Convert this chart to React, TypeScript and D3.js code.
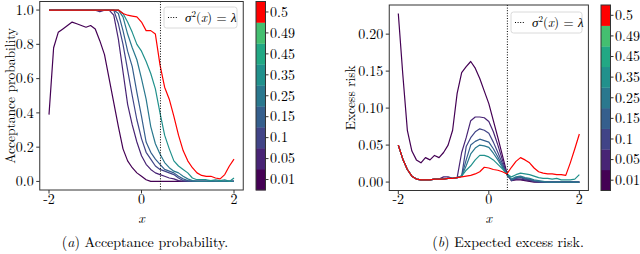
import React from "react";
import * as d3 from "d3";

// x grid shared by every curve
const xs = [
  -2, -1.9, -1.8, -1.7, -1.6, -1.5, -1.4, -1.3, -1.2, -1.1, -1, -0.9, -0.8, -0.7,
  -0.6, -0.5, -0.4, -0.3, -0.2, -0.1, 0, 0.1, 0.2, 0.3, 0.4, 0.5, 0.6, 0.7, 0.8,
  0.9, 1, 1.1, 1.2, 1.3, 1.4, 1.5, 1.6, 1.7, 1.8, 1.9, 2,
];

const lambdaLabels = ["0.01", "0.05", "0.1", "0.15", "0.25", "0.35", "0.45", "0.49", "0.5"];
// index into lambdaLabels of every drawn curve
const curveLevels = [0, 1, 2, 3, 4, 5, 8];
const lambdaLine = 0.41;

// (a) acceptance probability
const acc01 = [0.39, 0.78, 0.87, 0.89, 0.91, 0.93, 0.92, 0.91, 0.9, 0.91, 0.89, 0.82, 0.74, 0.6, 0.46, 0.32, 0.19, 0.12, 0.08, 0.05, 0.03, 0.01, 0, 0, 0, 0, 0, 0, 0, 0, 0, 0, 0, 0, 0, 0, 0, 0, 0, 0, 0];
const acc05 = [1, 1, 1, 1, 1, 1, 1, 1, 1, 1, 1, 0.99, 1, 1, 0.97, 0.83, 0.64, 0.45, 0.33, 0.23, 0.15, 0.1, 0.07, 0.05, 0.04, 0.03, 0.02, 0.015, 0.005, 0, 0, 0, 0, 0, 0, 0, 0, 0, 0, 0, 0];
const acc10 = [1, 1, 1, 1, 1, 1, 1, 1, 1, 1, 1, 1, 1, 1, 1, 0.92, 0.8, 0.65, 0.5, 0.36, 0.25, 0.17, 0.13, 0.09, 0.07, 0.06, 0.05, 0.04, 0.02, 0.005, 0, 0, 0, 0, 0, 0, 0, 0, 0, 0, 0];
const acc15 = [1, 1, 1, 1, 1, 1, 1, 1, 1, 1, 1, 1, 1, 1, 1, 0.98, 0.88, 0.76, 0.67, 0.52, 0.38, 0.23, 0.17, 0.13, 0.1, 0.07, 0.06, 0.05, 0.03, 0.015, 0.005, 0, 0, 0, 0, 0, 0, 0, 0, 0, 0];
const acc25 = [1, 1, 1, 1, 1, 1, 1, 1, 1, 1, 1, 1, 1, 1, 1, 1, 0.96, 0.86, 0.78, 0.71, 0.6, 0.48, 0.32, 0.22, 0.16, 0.11, 0.08, 0.06, 0.05, 0.03, 0.015, 0.005, 0, 0, 0, 0.005, 0, 0, 0, 0, 0];
const acc35 = [1, 1, 1, 1, 1, 1, 1, 1, 1, 1, 1, 1, 1, 1, 1, 1, 0.98, 0.93, 0.87, 0.8, 0.76, 0.7, 0.63, 0.54, 0.4, 0.27, 0.19, 0.12, 0.09, 0.07, 0.05, 0.02, 0.01, 0.01, 0.01, 0.005, 0.01, 0.005, 0.01, 0, 0.02];
const acc50 = [1, 1, 1, 1, 1, 1, 1, 1, 1, 1, 1, 1, 1, 1, 1, 1, 0.98, 0.97, 0.965, 0.96, 0.93, 0.88, 0.88, 0.86, 0.68, 0.55, 0.48, 0.38, 0.27, 0.18, 0.12, 0.08, 0.05, 0.035, 0.03, 0.03, 0.02, 0.015, 0.04, 0.09, 0.13];

// (b) expected excess risk
const risk01 = [0.228, 0.145, 0.07, 0.042, 0.03, 0.026, 0.033, 0.03, 0.036, 0.033, 0.04, 0.05, 0.07, 0.12, 0.148, 0.156, 0.163, 0.154, 0.14, 0.123, 0.106, 0.083, 0.06, 0.036, 0.012, 0.002, 0.003, 0.003, 0.002, 0.001, 0, 0, 0, 0, 0, 0, 0, 0, 0, 0, 0];
const risk05 = [0.05, 0.031, 0.017, 0.008, 0.004, 0.003, 0.003, 0.003, 0.004, 0.004, 0.007, 0.007, 0.005, 0.006, 0.04, 0.06, 0.083, 0.088, 0.088, 0.087, 0.082, 0.068, 0.05, 0.03, 0.01, 0.003, 0.004, 0.004, 0.003, 0.002, 0.001, 0, 0, 0, 0, 0, 0, 0, 0, 0, 0];
const risk10 = [0.05, 0.031, 0.017, 0.008, 0.004, 0.003, 0.003, 0.003, 0.004, 0.004, 0.004, 0.005, 0.005, 0.006, 0.008, 0.048, 0.06, 0.068, 0.072, 0.07, 0.066, 0.054, 0.04, 0.025, 0.01, 0.002, 0.005, 0.006, 0.004, 0.003, 0.001, 0, 0, 0, 0, 0, 0, 0, 0, 0, 0];
const risk15 = [0.05, 0.031, 0.017, 0.008, 0.004, 0.003, 0.003, 0.003, 0.004, 0.004, 0.004, 0.005, 0.005, 0.006, 0.008, 0.03, 0.05, 0.055, 0.058, 0.056, 0.054, 0.045, 0.034, 0.022, 0.01, 0.003, 0.006, 0.007, 0.005, 0.004, 0.002, 0.001, 0, 0, 0, 0, 0, 0, 0, 0, 0];
const risk25 = [0.05, 0.031, 0.017, 0.008, 0.004, 0.003, 0.003, 0.003, 0.004, 0.004, 0.004, 0.005, 0.005, 0.006, 0.008, 0.022, 0.038, 0.046, 0.05, 0.049, 0.047, 0.039, 0.03, 0.02, 0.01, 0.004, 0.007, 0.008, 0.006, 0.005, 0.003, 0.002, 0.001, 0, 0, 0, 0, 0, 0, 0, 0];
const risk35 = [0.05, 0.031, 0.017, 0.008, 0.004, 0.003, 0.003, 0.003, 0.004, 0.004, 0.004, 0.005, 0.005, 0.006, 0.008, 0.016, 0.022, 0.03, 0.036, 0.036, 0.034, 0.03, 0.024, 0.018, 0.011, 0.007, 0.01, 0.012, 0.011, 0.01, 0.008, 0.006, 0.005, 0.005, 0.004, 0.005, 0.003, 0.003, 0.003, 0.004, 0.01];
const risk50 = [0.05, 0.031, 0.017, 0.008, 0.004, 0.003, 0.003, 0.003, 0.004, 0.004, 0.004, 0.005, 0.005, 0.006, 0.007, 0.008, 0.009, 0.011, 0.014, 0.02, 0.019, 0.017, 0.016, 0.014, 0.011, 0.02, 0.028, 0.033, 0.03, 0.026, 0.019, 0.014, 0.012, 0.011, 0.011, 0.01, 0.01, 0.009, 0.026, 0.045, 0.065];

const accTicks = [0, 0.2, 0.4, 0.6, 0.8, 1.0];
const riskTicks = [0, 0.05, 0.1, 0.15, 0.2];
const xTicks = [-2, 0, 2];

const FONT = "'Latin Modern Roman', 'CMU Serif', 'Liberation Serif', serif";
const levelColor = (i: number) => (i === 8 ? "#ff0000" : d3.interpolateViridis(i / 10));

type PanelProps = {
  left: number;
  right: number;
  top: number;
  bottom: number;
  yDomain: [number, number];
  yTicks: number[];
  yFmt: string;
  series: number[][];
  ylabel: string;
  ylabelX: number;
  legendX: number;
  legendY: number;
  legendW: number;
  cbarX: number;
  letter: string;
  caption: string;
  captionX: number;
};

function Panel(p: PanelProps) {
  const x = d3.scaleLinear().domain([-2.2, 2.2]).range([p.left, p.right]);
  const y = d3.scaleLinear().domain(p.yDomain).range([p.bottom, p.top]);
  const line = d3
    .line<number>()
    .x((d, i) => x(xs[i]))
    .y(d => y(d));
  const fmt = d3.format(p.yFmt);
  const cy = d3
    .scaleBand<number>()
    .domain(d3.range(9).reverse())
    .range([p.top, p.bottom]);
  const cbarW = 9.5;
  const midY = (p.top + p.bottom) / 2;
  return (
    <g fontFamily={FONT}>
      <defs>
        <clipPath id={"clip" + p.letter}>
          <rect x={p.left} y={p.top} width={p.right - p.left} height={p.bottom - p.top} />
        </clipPath>
      </defs>
      <g clipPath={`url(#clip${p.letter})`}>
        {p.series.map((s, k) => (
          <path
            key={k}
            d={line(s) || ""}
            fill="none"
            stroke={levelColor(curveLevels[k])}
            strokeWidth={1.2}
            strokeLinejoin="round"
          />
        ))}
        <line
          x1={x(lambdaLine)}
          x2={x(lambdaLine)}
          y1={p.top}
          y2={p.bottom}
          stroke="#000"
          strokeWidth={1}
          strokeDasharray="1,1.6"
        />
      </g>
      {/* legend */}
      <rect
        x={p.legendX}
        y={p.legendY}
        width={p.legendW}
        height={21}
        rx={2.5}
        fill="#fff"
        fillOpacity={0.85}
        stroke="#d0d0d0"
        strokeWidth={0.8}
      />
      <line
        x1={p.legendX + 4}
        x2={p.legendX + 13}
        y1={p.legendY + 10.5}
        y2={p.legendY + 10.5}
        stroke="#000"
        strokeWidth={1}
        strokeDasharray="1,1.6"
      />
      <text x={p.legendX + 21} y={p.legendY + 15} fontSize={13}>
        <tspan fontStyle="italic">σ</tspan>
        <tspan dy={-5} fontSize={9}>2</tspan>
        <tspan dy={5}>(</tspan>
        <tspan fontStyle="italic">x</tspan>
        <tspan>) = </tspan>
        <tspan fontStyle="italic">λ</tspan>
      </text>
      {/* frame */}
      <rect
        x={p.left}
        y={p.top}
        width={p.right - p.left}
        height={p.bottom - p.top}
        fill="none"
        stroke="#333"
        strokeWidth={1}
      />
      {xTicks.map(t => (
        <g key={t}>
          <line x1={x(t)} x2={x(t)} y1={p.bottom} y2={p.bottom + 3.5} stroke="#333" />
          <text x={x(t)} y={204} fontSize={14} textAnchor="middle">
            {String(t)}
          </text>
        </g>
      ))}
      {p.yTicks.map(t => (
        <g key={t}>
          <line x1={p.left - 3.5} x2={p.left} y1={y(t)} y2={y(t)} stroke="#333" />
          <text x={p.left - 6} y={y(t) + 4.8} fontSize={14} textAnchor="end">
            {fmt(t)}
          </text>
        </g>
      ))}
      <text x={(p.left + p.right) / 2} y={223} fontSize={14} fontStyle="italic" textAnchor="middle">
        x
      </text>
      <text
        transform={`translate(${p.ylabelX},${midY}) rotate(-90)`}
        fontSize={13.5}
        textAnchor="middle"
      >
        {p.ylabel}
      </text>
      {/* colorbar */}
      {d3.range(9).map(i => (
        <rect
          key={i}
          x={p.cbarX}
          y={cy(i)}
          width={cbarW}
          height={cy.bandwidth() + 0.3}
          fill={levelColor(i)}
        />
      ))}
      <rect
        x={p.cbarX}
        y={p.top}
        width={cbarW}
        height={p.bottom - p.top}
        fill="none"
        stroke="#333"
        strokeWidth={1}
      />
      {lambdaLabels.map((lab, i) => {
        const yy = (cy(i) as number) + cy.bandwidth() / 2;
        return (
          <g key={lab}>
            <line x1={p.cbarX + cbarW} x2={p.cbarX + cbarW + 3} y1={yy} y2={yy} stroke="#333" />
            <text x={p.cbarX + cbarW + 4.5} y={yy + 4.8} fontSize={14}>
              {lab}
            </text>
          </g>
        );
      })}
      <text x={p.captionX} y={247} fontSize={14} textAnchor="middle">
        <tspan>(</tspan>
        <tspan fontStyle="italic">{p.letter}</tspan>
        <tspan>) {p.caption}</tspan>
      </text>
    </g>
  );
}

export default function App() {
  return (
    <svg
      width={640}
      height={254}
      viewBox="0 0 640 254"
      style={{ position: "absolute", left: 0, top: 0, background: "#fff" }}
    >
      <rect width={640} height={254} fill="#fff" />
      <Panel
        left={39.75}
        right={243.25}
        top={1.5}
        bottom={190}
        yDomain={[-0.05, 1.05]}
        yTicks={accTicks}
        yFmt=".1f"
        series={[acc01, acc05, acc10, acc15, acc25, acc35, acc50]}
        ylabel="Acceptance probability"
        ylabelX={14.5}
        legendX={164}
        legendY={7}
        legendW={73}
        cbarX={256}
        letter="a"
        caption="Acceptance probability."
        captionX={145}
      />
      <Panel
        left={389.25}
        right={588.4}
        top={5}
        bottom={190.5}
        yDomain={[-0.0114, 0.2394]}
        yTicks={riskTicks}
        yFmt=".2f"
        series={[risk01, risk05, risk10, risk15, risk25, risk35, risk50]}
        ylabel="Excess risk"
        ylabelX={355}
        legendX={511}
        legendY={12}
        legendW={71}
        cbarX={601}
        letter="b"
        caption="Expected excess risk."
        captionX={508}
      />
    </svg>
  );
}
